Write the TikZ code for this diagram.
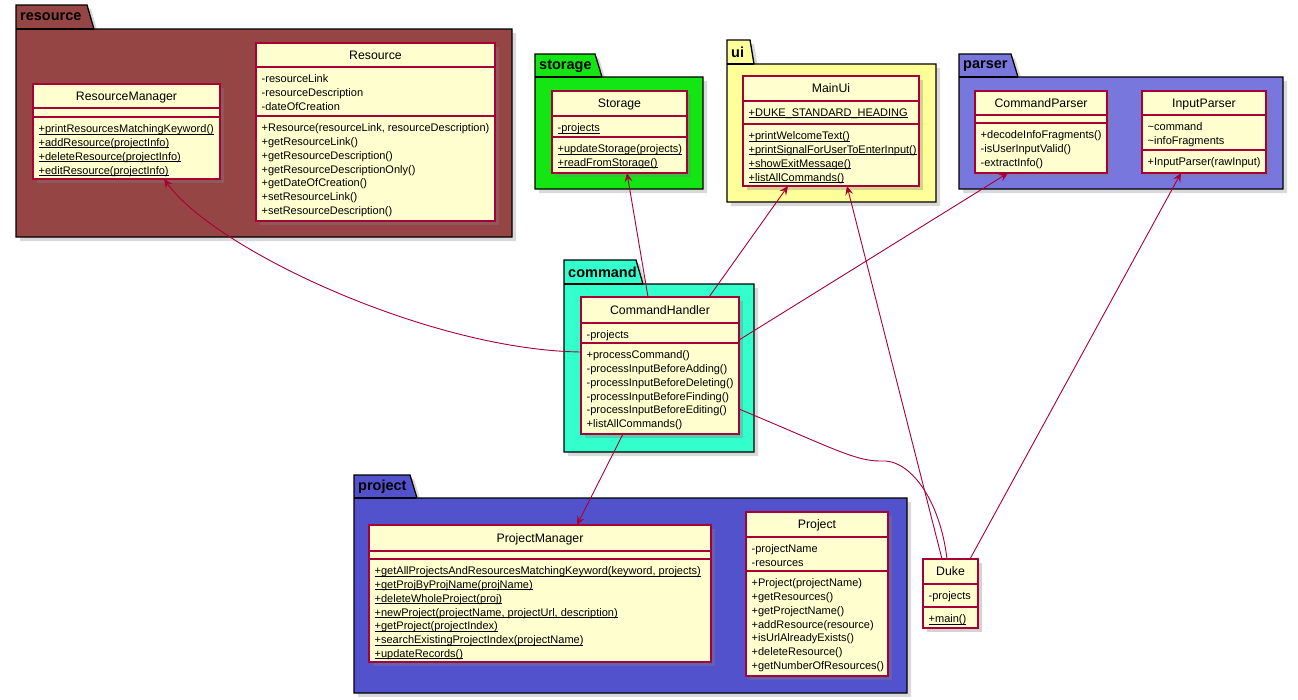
\documentclass[tikz,border=0pt]{standalone}
\usepackage{fontspec}
\setmainfont{Liberation Sans}
\usepackage{xcolor}
\usepackage{tikz}
\usetikzlibrary{arrows.meta, shadows}

\definecolor{clsfill}{HTML}{FEFECE}
\definecolor{clsborder}{HTML}{A80036}
\definecolor{resbrown}{RGB}{150,69,69}
\definecolor{storgreen}{RGB}{20,230,20}
\definecolor{uiyellow}{RGB}{255,255,153}
\definecolor{parserblue}{RGB}{119,119,221}
\definecolor{cmdteal}{RGB}{51,255,204}
\definecolor{projblue}{RGB}{82,82,204}

\newsavebox{\umlbox}
\newcommand{\umlstatic}[1]{\sbox{\umlbox}{#1}\rlap{\rule[-1.8pt]{\wd\umlbox}{0.8pt}}\usebox{\umlbox}}

\begin{document}
\begin{tikzpicture}[
    x=1pt, y=1pt,
    pkg/.style={draw=black, line width=1.3pt, drop shadow={shadow xshift=4pt, shadow yshift=-4pt, opacity=0.3}},
    pkgtab/.style={draw=black, line width=1.3pt},
    pkglabel/.style={anchor=west, inner sep=0pt, font=\fontsize{14.5}{16}\selectfont\bfseries},
    cls/.style={anchor=north west, rectangle, draw=clsborder, fill=clsfill, line width=1.2pt, outer sep=0pt, drop shadow={shadow xshift=3.5pt, shadow yshift=-3.5pt, opacity=0.35}},
    clsname/.style={anchor=base, inner sep=0pt, font=\fontsize{12.3}{14}\selectfont},
    clssep/.style={draw=clsborder, line width=1.2pt},
    members/.style={anchor=north west, align=left, inner sep=0pt, font=\fontsize{11}{13.8}\selectfont},
    assoc/.style={-{Stealth[length=9pt, width=8pt, inset=3.5pt]}, draw=clsborder, line width=0.9pt},
    link/.style={draw=clsborder, line width=0.9pt}
]
    \useasboundingbox (0,0) rectangle (1298,-699);

    % resource package
    \draw[pkg, fill=resbrown] (16,-29) -- (16,-5) -- (87,-5) -- (94,-29) -- (512,-29) -- (512,-237) -- (16,-237) -- cycle;
    \draw[pkgtab] (16,-29) -- (94,-29);
    \node[pkglabel] (resource) at (20,-17) {resource};

    \node[cls, minimum width=187pt, minimum height=95pt] (rmgr) at (33,-84) {};
    \node[clsname] at ([yshift=-16.4pt]rmgr.north) {ResourceManager};
    \draw[clssep] ([yshift=-24pt]rmgr.north west) -- ([yshift=-24pt]rmgr.north east);
    \draw[clssep] ([yshift=-33pt]rmgr.north west) -- ([yshift=-33pt]rmgr.north east);
    \node[members] at ([xshift=5.5pt, yshift=-40.5pt]rmgr.north west) {\umlstatic{+printResourcesMatchingKeyword()}\\\umlstatic{+addResource(projectInfo)}\\\umlstatic{+deleteResource(projectInfo)}\\\umlstatic{+editResource(projectInfo)}};

    \node[cls, minimum width=239pt, minimum height=178pt] (res) at (256,-43) {};
    \node[clsname] at ([yshift=-16.4pt]res.north) {Resource};
    \draw[clssep] ([yshift=-24pt]res.north west) -- ([yshift=-24pt]res.north east);
    \draw[clssep] ([yshift=-73pt]res.north west) -- ([yshift=-73pt]res.north east);
    \node[members] at ([xshift=5.5pt, yshift=-31.5pt]res.north west) {-resourceLink\\-resourceDescription\\-dateOfCreation};
    \node[members] at ([xshift=5.5pt, yshift=-80.5pt]res.north west) {+Resource(resourceLink, resourceDescription)\\+getResourceLink()\\+getResourceDescription()\\+getResourceDescriptionOnly()\\+getDateOfCreation()\\+setResourceLink()\\+setResourceDescription()};

    % storage package
    \draw[pkg, fill=storgreen] (535,-77) -- (535,-54) -- (595,-54) -- (602,-77) -- (703,-77) -- (703,-189) -- (535,-189) -- cycle;
    \draw[pkgtab] (535,-77) -- (602,-77);
    \node[pkglabel] (storage) at (539,-66) {storage};

    \node[cls, minimum width=135pt, minimum height=82pt] (stor) at (552,-91) {};
    \node[clsname] at ([yshift=-16.9pt]stor.north) {Storage};
    \draw[clssep] ([yshift=-25pt]stor.north west) -- ([yshift=-25pt]stor.north east);
    \draw[clssep] ([yshift=-46pt]stor.north west) -- ([yshift=-46pt]stor.north east);
    \node[members] at ([xshift=5.5pt, yshift=-32.5pt]stor.north west) {\umlstatic{-projects}};
    \node[members] at ([xshift=5.5pt, yshift=-53.5pt]stor.north west) {\umlstatic{+updateStorage(projects)}\\\umlstatic{+readFromStorage()}};

    % ui package
    \draw[pkg, fill=uiyellow] (727,-64) -- (727,-40) -- (750,-40) -- (754,-64) -- (936,-64) -- (936,-202) -- (727,-202) -- cycle;
    \draw[pkgtab] (727,-64) -- (754,-64);
    \node[pkglabel] (ui) at (731,-52) {ui};

    \node[cls, minimum width=176pt, minimum height=110pt] (mainui) at (743,-76) {};
    \node[clsname] at ([yshift=-16.9pt]mainui.north) {MainUi};
    \draw[clssep] ([yshift=-25pt]mainui.north west) -- ([yshift=-25pt]mainui.north east);
    \draw[clssep] ([yshift=-48pt]mainui.north west) -- ([yshift=-48pt]mainui.north east);
    \node[members] at ([xshift=5.5pt, yshift=-32.5pt]mainui.north west) {\umlstatic{+DUKE\_STANDARD\_HEADING}};
    \node[members] at ([xshift=5.5pt, yshift=-55.5pt]mainui.north west) {\umlstatic{+printWelcomeText()}\\\umlstatic{+printSignalForUserToEnterInput()}\\\umlstatic{+showExitMessage()}\\\umlstatic{+listAllCommands()}};

    % parser package
    \draw[pkg, fill=parserblue] (959,-77) -- (959,-54) -- (1011,-54) -- (1018,-77) -- (1283,-77) -- (1283,-189) -- (959,-189) -- cycle;
    \draw[pkgtab] (959,-77) -- (1018,-77);
    \node[pkglabel] (parser) at (963,-66) {parser};

    \node[cls, minimum width=132pt, minimum height=82pt] (cmdp) at (975,-91) {};
    \node[clsname] at ([yshift=-16.4pt]cmdp.north) {CommandParser};
    \draw[clssep] ([yshift=-24pt]cmdp.north west) -- ([yshift=-24pt]cmdp.north east);
    \draw[clssep] ([yshift=-32pt]cmdp.north west) -- ([yshift=-32pt]cmdp.north east);
    \node[members] at ([xshift=5.5pt, yshift=-39.5pt]cmdp.north west) {+decodeInfoFragments()\\-isUserInputValid()\\-extractInfo()};

    \node[cls, minimum width=124pt, minimum height=82pt] (inpp) at (1142,-91) {};
    \node[clsname] at ([yshift=-16.4pt]inpp.north) {InputParser};
    \draw[clssep] ([yshift=-24pt]inpp.north west) -- ([yshift=-24pt]inpp.north east);
    \draw[clssep] ([yshift=-59pt]inpp.north west) -- ([yshift=-59pt]inpp.north east);
    \node[members] at ([xshift=5.5pt, yshift=-31.5pt]inpp.north west) {\textasciitilde command\\\textasciitilde infoFragments};
    \node[members] at ([xshift=5.5pt, yshift=-66.5pt]inpp.north west) {+InputParser(rawInput)};

    % command package
    \draw[pkg, fill=cmdteal] (564,-284) -- (564,-260) -- (636,-260) -- (643,-284) -- (754,-284) -- (754,-452) -- (564,-452) -- cycle;
    \draw[pkgtab] (564,-284) -- (643,-284);
    \node[pkglabel] (command) at (568,-272) {command};

    \node[cls, minimum width=158pt, minimum height=137pt] (cmdh) at (581,-297) {};
    \node[clsname] at ([yshift=-17.4pt]cmdh.north) {CommandHandler};
    \draw[clssep] ([yshift=-26pt]cmdh.north west) -- ([yshift=-26pt]cmdh.north east);
    \draw[clssep] ([yshift=-46pt]cmdh.north west) -- ([yshift=-46pt]cmdh.north east);
    \node[members] at ([xshift=5.5pt, yshift=-33.5pt]cmdh.north west) {-projects};
    \node[members] at ([xshift=5.5pt, yshift=-53.5pt]cmdh.north west) {+processCommand()\\-processInputBeforeAdding()\\-processInputBeforeDeleting()\\-processInputBeforeFinding()\\-processInputBeforeEditing()\\+listAllCommands()};

    % project package
    \draw[pkg, fill=projblue] (354,-498) -- (354,-475) -- (410,-475) -- (417,-498) -- (907,-498) -- (907,-693) -- (354,-693) -- cycle;
    \draw[pkgtab] (354,-498) -- (417,-498);
    \node[pkglabel] (project) at (358,-487) {project};

    \node[cls, minimum width=342pt, minimum height=137pt] (pmgr) at (369,-525) {};
    \node[clsname] at ([yshift=-17.4pt]pmgr.north) {ProjectManager};
    \draw[clssep] ([yshift=-26pt]pmgr.north west) -- ([yshift=-26pt]pmgr.north east);
    \draw[clssep] ([yshift=-34pt]pmgr.north west) -- ([yshift=-34pt]pmgr.north east);
    \node[members] at ([xshift=5.5pt, yshift=-41.5pt]pmgr.north west) {\umlstatic{+getAllProjectsAndResourcesMatchingKeyword(keyword, projects)}\\\umlstatic{+getProjByProjName(projName)}\\\umlstatic{+deleteWholeProject(proj)}\\\umlstatic{+newProject(projectName, projectUrl, description)}\\\umlstatic{+getProject(projectIndex)}\\\umlstatic{+searchExistingProjectIndex(projectName)}\\\umlstatic{+updateRecords()}};

    \node[cls, minimum width=142pt, minimum height=164pt] (proj) at (746,-512) {};
    \node[clsname] at ([yshift=-16.9pt]proj.north) {Project};
    \draw[clssep] ([yshift=-25pt]proj.north west) -- ([yshift=-25pt]proj.north east);
    \draw[clssep] ([yshift=-59pt]proj.north west) -- ([yshift=-59pt]proj.north east);
    \node[members] at ([xshift=5.5pt, yshift=-32.5pt]proj.north west) {-projectName\\-resources};
    \node[members] at ([xshift=5.5pt, yshift=-66.5pt]proj.north west) {+Project(projectName)\\+getResources()\\+getProjectName()\\+addResource(resource)\\+isUrlAlreadyExists()\\+deleteResource()\\+getNumberOfResources()};

    % Duke
    \node[cls, minimum width=55pt, minimum height=69pt] (duke) at (923,-559) {};
    \node[clsname] at ([yshift=-16.9pt]duke.north) {Duke};
    \draw[clssep] ([yshift=-25pt]duke.north west) -- ([yshift=-25pt]duke.north east);
    \draw[clssep] ([yshift=-48pt]duke.north west) -- ([yshift=-48pt]duke.north east);
    \node[members] at ([xshift=5.5pt, yshift=-32.5pt]duke.north west) {-projects};
    \node[members] at ([xshift=5.5pt, yshift=-55.5pt]duke.north west) {\umlstatic{+main()}};

    % Arrows
    \draw[assoc] ([yshift=13.5pt]cmdh.west) .. controls (430,-350) and (215,-250) .. ([xshift=37.5pt]rmgr.south);
    \draw[assoc] ([xshift=-12pt]cmdh.north) -- ([xshift=7.5pt]stor.south);
    \draw[assoc] ([xshift=49pt]cmdh.north) -- ([xshift=-43pt]mainui.south);
    \draw[assoc] ([yshift=25.5pt]cmdh.east) -- ([xshift=-33pt]cmdp.south);
    \draw[assoc] ([xshift=-37pt]cmdh.south) -- ([xshift=37pt]pmgr.north);

    \coordinate (bend) at (880,-461);
    \draw[link] ([yshift=-43.5pt]cmdh.east) .. controls (830,-447) and (855,-461) .. (bend) .. controls (910,-458) and (940,-500) .. ([xshift=-3.5pt]duke.north);
    \draw[assoc] ([xshift=-8.5pt]duke.north) -- ([xshift=16pt]mainui.south);
    \draw[assoc] ([xshift=19.5pt]duke.north) -- ([xshift=-23pt]inpp.south);

\end{tikzpicture}
\end{document}
